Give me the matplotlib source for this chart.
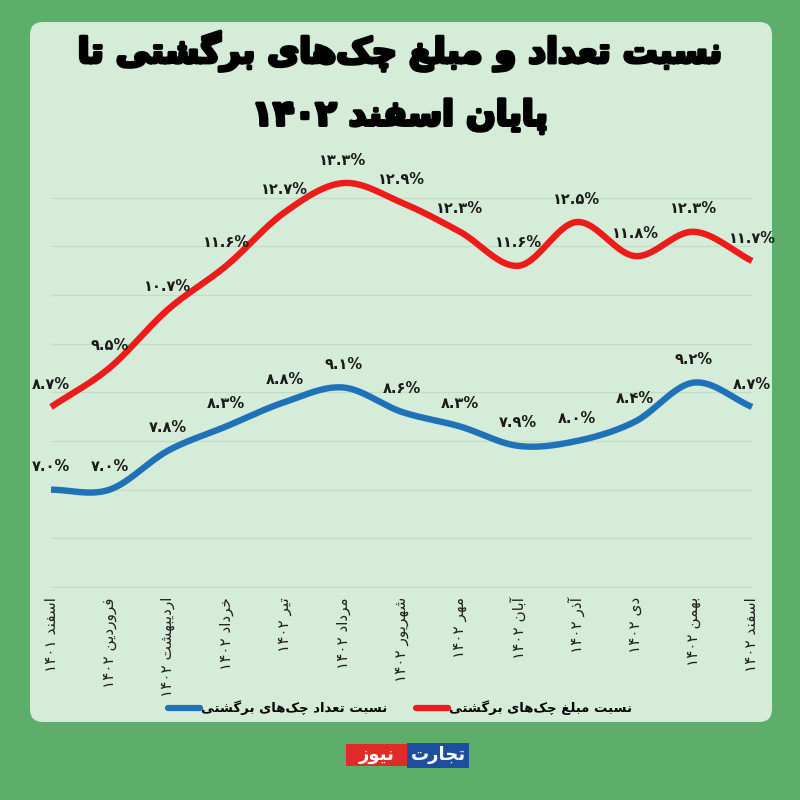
import numpy as np
import matplotlib.pyplot as plt
from matplotlib.patches import FancyBboxPatch, Rectangle
from matplotlib.lines import Line2D
import matplotlib.patheffects as pe

plt.rcParams['font.family'] = ['DejaVu Sans']

# data
months = ['اسفند ۱۴۰۱', 'فروردین ۱۴۰۲', 'اردیبهشت ۱۴۰۲', 'خرداد ۱۴۰۲', 'تیر ۱۴۰۲',
          'مرداد ۱۴۰۲', 'شهریور ۱۴۰۲', 'مهر ۱۴۰۲', 'آبان ۱۴۰۲', 'آذر ۱۴۰۲',
          'دی ۱۴۰۲', 'بهمن ۱۴۰۲', 'اسفند ۱۴۰۲']
count_ratio = [7.0, 7.0, 7.8, 8.3, 8.8, 9.1, 8.6, 8.3, 7.9, 8.0, 8.4, 9.2, 8.7]
amount_ratio = [8.7, 9.5, 10.7, 11.6, 12.7, 13.3, 12.9, 12.3, 11.6, 12.5, 11.8, 12.3, 11.7]

title = 'نسبت تعداد و مبلغ چک‌های برگشتی تا\nپایان اسفند ۱۴۰۲'
count_name = 'نسبت تعداد چک‌های برگشتی'
amount_name = 'نسبت مبلغ چک‌های برگشتی'

# --- minimal persian shaping (matplotlib has no complex text layout) ---
FORMS = {
    'ا': '\uFE8D\uFE8E', 'آ': '\uFE81\uFE82', 'د': '\uFEA9\uFEAA', 'ذ': '\uFEAB\uFEAC',
    'ر': '\uFEAD\uFEAE', 'ز': '\uFEAF\uFEB0', 'ژ': '\uFB8A\uFB8B', 'و': '\uFEED\uFEEE',
    'ب': '\uFE8F\uFE90\uFE91\uFE92', 'پ': '\uFB56\uFB57\uFB58\uFB59',
    'ت': '\uFE95\uFE96\uFE97\uFE98', 'ث': '\uFE99\uFE9A\uFE9B\uFE9C',
    'ج': '\uFE9D\uFE9E\uFE9F\uFEA0', 'چ': '\uFB7A\uFB7B\uFB7C\uFB7D',
    'ح': '\uFEA1\uFEA2\uFEA3\uFEA4', 'خ': '\uFEA5\uFEA6\uFEA7\uFEA8',
    'س': '\uFEB1\uFEB2\uFEB3\uFEB4', 'ش': '\uFEB5\uFEB6\uFEB7\uFEB8',
    'ع': '\uFEC9\uFECA\uFECB\uFECC', 'غ': '\uFECD\uFECE\uFECF\uFED0',
    'ف': '\uFED1\uFED2\uFED3\uFED4', 'ق': '\uFED5\uFED6\uFED7\uFED8',
    'ک': '\uFB8E\uFB8F\uFB90\uFB91', 'گ': '\uFB92\uFB93\uFB94\uFB95',
    'ل': '\uFEDD\uFEDE\uFEDF\uFEE0', 'م': '\uFEE1\uFEE2\uFEE3\uFEE4',
    'ن': '\uFEE5\uFEE6\uFEE7\uFEE8', 'ه': '\uFEE9\uFEEA\uFEEB\uFEEC',
    'ی': '\uFBFC\uFBFD\uFBFE\uFBFF',
}


def shape_word(w):
    out = []
    for i, c in enumerate(w):
        if c not in FORMS:
            if c != '\u200c':
                out.append(c)
            continue
        f = FORMS[c]
        prev = w[i - 1] if i > 0 else None
        nxt = w[i + 1] if i + 1 < len(w) else None
        jp = prev in FORMS and len(FORMS[prev]) == 4
        jn = nxt in FORMS and len(f) == 4
        if jp and jn:
            out.append(f[3])
        elif jp:
            out.append(f[1])
        elif jn:
            out.append(f[2])
        else:
            out.append(f[0])
    return ''.join(out)[::-1]


def fa(text):
    lines = []
    for line in text.split('\n'):
        words = [shape_word(w) if any(ch in FORMS for ch in w) else w for w in line.split(' ')]
        lines.append(' '.join(words[::-1]))
    return '\n'.join(lines)


def fa_num(v):
    return f'{v:.1f}%'.translate(str.maketrans('0123456789', '۰۱۲۳۴۵۶۷۸۹'))


def smooth(y, n=40):
    y = np.asarray(y, dtype=float)
    p = np.concatenate([[2 * y[0] - y[1]], y, [2 * y[-1] - y[-2]]])
    xs, ys = [], []
    t = np.linspace(0, 1, n, endpoint=False)
    for i in range(len(y) - 1):
        p0, p1, p2, p3 = p[i], p[i + 1], p[i + 2], p[i + 3]
        seg = 0.5 * ((2 * p1) + (-p0 + p2) * t + (2 * p0 - 5 * p1 + 4 * p2 - p3) * t ** 2
                     + (-p0 + 3 * p1 - 3 * p2 + p3) * t ** 3)
        xs.append(i + t)
        ys.append(seg)
    xs.append([len(y) - 1])
    ys.append([y[-1]])
    return np.concatenate(xs), np.concatenate(ys)


RED = '#ee1b1b'
BLUE = '#1f72b8'

fig = plt.figure(figsize=(8, 8), dpi=100, facecolor='#5dae6a')

# panel
panel = FancyBboxPatch((0.0375, 0.0975), 0.9275, 0.875, boxstyle='round,pad=0,rounding_size=0.016',
                       transform=fig.transFigure, facecolor='#d5ecd8', edgecolor='none', zorder=-5)
fig.patches.append(panel)

ax = fig.add_axes([0.06375, 0.265, 0.87625, 0.54875])
ax.set_zorder(2)
ax.set_facecolor('none')
ax.set_xlim(0, len(months) - 1)
ax.set_ylim(4.98, 14)
ax.set_yticks(np.arange(5, 14, 1))
ax.grid(axis='y', color='#c3dcc7', linewidth=0.9)
ax.tick_params(left=False, bottom=False, labelleft=False)
for s in ax.spines.values():
    s.set_visible(False)

x = np.arange(len(months))
for vals, col in [(amount_ratio, RED), (count_ratio, BLUE)]:
    sx, sy = smooth(vals)
    ax.plot(sx, sy, color=col, linewidth=4.6, solid_capstyle='butt', clip_on=False)
    for xi, v in zip(x, vals):
        ax.annotate(fa_num(v), (xi, v), xytext=(0, 16.5), textcoords='offset points',
                    ha='center', va='center', fontsize=10.5, fontweight='bold', color='#1a1a1a')

ax.set_xticks(x)
ax.set_xticklabels([fa(m) for m in months], rotation=90, fontsize=11, color='#222222', va='top')
ax.tick_params(axis='x', pad=3)

# title
fig.text(0.5, 0.897, fa(title), ha='center', va='center', fontsize=25, fontweight='bold',
         color='black', linespacing=2.0,
         path_effects=[pe.withStroke(linewidth=2.4, foreground='black')])

# legend
handles = [Line2D([], [], color=BLUE, linewidth=4.5, solid_capstyle='round'),
           Line2D([], [], color=RED, linewidth=4.5, solid_capstyle='round')]
fig.legend(handles, [fa(count_name), fa(amount_name)], loc='center', ncol=2,
           bbox_to_anchor=(0.5, 0.115), frameon=False, handlelength=2.4, handletextpad=0.1,
           columnspacing=2.2, prop={'weight': 'bold', 'size': 9.5})

# logo
fig.patches.append(Rectangle((0.4325, 0.0425), 0.076, 0.0275, transform=fig.transFigure,
                             facecolor='#e02b2b', edgecolor='none'))
fig.patches.append(Rectangle((0.5085, 0.040), 0.078, 0.031, transform=fig.transFigure,
                             facecolor='#1d4f9e', edgecolor='none'))
fig.text(0.4705, 0.056, fa('نیوز'), ha='center', va='center', fontsize=13, fontweight='bold',
         color='white')
fig.text(0.5475, 0.056, fa('تجارت'), ha='center', va='center', fontsize=13, fontweight='bold',
         color='white')

fig.savefig('out.png', dpi=100, facecolor=fig.get_facecolor())
